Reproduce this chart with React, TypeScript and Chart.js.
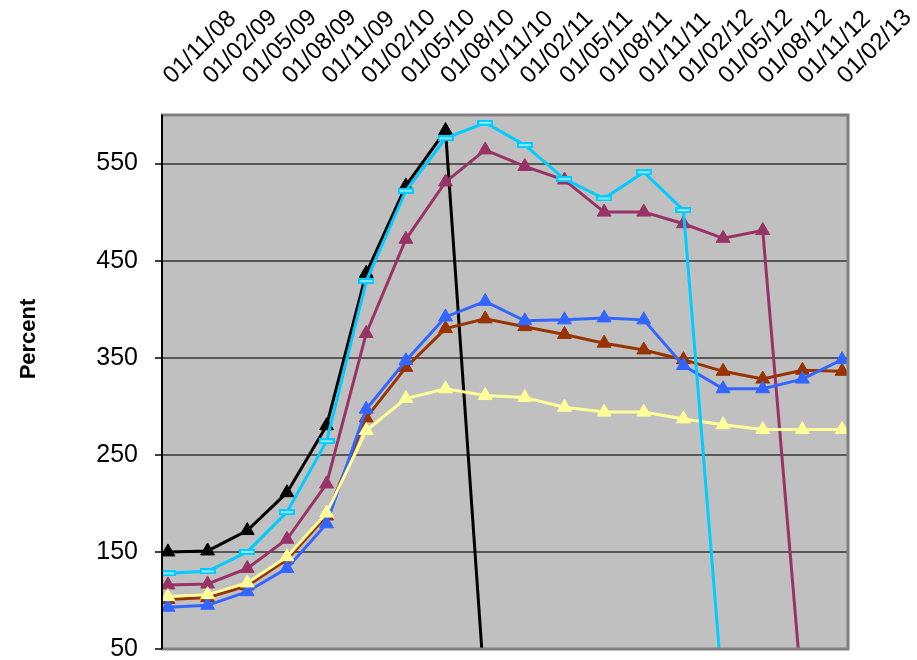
import React, { useEffect, useRef } from 'react';
import { Chart, registerables } from 'chart.js';

Chart.register(...registerables);

const dates = [
  '01/11/08', '01/02/09', '01/05/09', '01/08/09', '01/11/09', '01/02/10',
  '01/05/10', '01/08/10', '01/11/10', '01/02/11', '01/05/11', '01/08/11',
  '01/11/11', '01/02/12', '01/05/12', '01/08/12', '01/11/12', '01/02/13',
];

const yTicks = [50, 150, 250, 350, 450, 550];

const blackSeries = [150, 151, 172, 211, 280, 437, 527, 584, 0, null, null, null, null, null, null, null, null, null];
const cyanSeries = [128, 130, 150, 191, 264, 429, 522, 576, 592, 569, 534, 514, 541, 502, 0, null, null, null];
const purpleSeries = [116, 117, 133, 163, 220, 375, 472, 531, 564, 547, 533, 500, 500, 488, 473, 481, 0, null];
const brownSeries = [101, 103, 115, 142, 187, 288, 340, 380, 390, 382, 374, 365, 358, 348, 336, 328, 337, 336];
const blueSeries = [93, 95, 109, 133, 179, 297, 347, 392, 408, 388, 389, 391, 389, 342, 318, 318, 328, 348];
const yellowSeries = [104, 106, 118, 145, 190, 275, 308, 318, 311, 309, 299, 294, 294, 287, 281, 276, 276, 276];

const FONT = "'Liberation Sans', Arial, Helvetica, sans-serif";

const toXY = (vals: (number | null)[]) => vals.map((y, i) => ({ x: i, y }));

export default function App() {
  const ref = useRef<HTMLCanvasElement>(null);

  useEffect(() => {
    document.body.style.margin = '0';
    const dash = document.createElement('canvas');
    dash.width = 16;
    dash.height = 6;
    const dctx = dash.getContext('2d')!;
    dctx.fillStyle = '#00CCFF';
    dctx.fillRect(0, 0, 16, 6);
    dctx.fillStyle = '#8FE8FF';
    dctx.fillRect(2, 2, 12, 2);

    const framePlugin = {
      id: 'frame',
      beforeDraw(chart: any) {
        const { ctx, chartArea: a } = chart;
        ctx.save();
        ctx.fillStyle = '#C0C0C0';
        ctx.fillRect(a.left, a.top, a.right - a.left, a.bottom - a.top);
        ctx.restore();
      },
      afterDatasetsDraw(chart: any) {
        const { ctx, chartArea: a } = chart;
        ctx.save();
        ctx.strokeStyle = '#808080';
        ctx.lineWidth = 3;
        ctx.beginPath();
        ctx.moveTo(a.left, a.top);
        ctx.lineTo(a.right, a.top);
        ctx.lineTo(a.right, a.bottom);
        ctx.lineTo(a.left, a.bottom);
        ctx.stroke();
        ctx.strokeStyle = '#000';
        ctx.lineWidth = 2;
        ctx.beginPath();
        ctx.moveTo(a.left, a.top);
        ctx.lineTo(a.left, a.bottom);
        ctx.stroke();
        ctx.restore();
      },
      afterDraw(chart: any) {
        const { ctx } = chart;
        ctx.save();
        ctx.translate(29, 339);
        ctx.rotate(-Math.PI / 2);
        ctx.font = `bold 22px ${FONT}`;
        ctx.fillStyle = '#000';
        ctx.textAlign = 'center';
        ctx.textBaseline = 'middle';
        ctx.fillText('Percent', 0, 0);
        ctx.restore();
      },
    };

    const clip = { left: 0, top: 12, right: 0, bottom: 0 };
    const tri = (color: string, vals: (number | null)[], order: number) => ({
      data: toXY(vals),
      borderColor: color,
      backgroundColor: color,
      borderWidth: 3,
      pointStyle: 'triangle',
      pointRadius: 8,
      pointBorderWidth: 1,
      pointBackgroundColor: color,
      pointBorderColor: color,
      tension: 0,
      order,
      clip,
    });

    const chart = new Chart(ref.current!, {
      type: 'line',
      data: {
        datasets: [
          tri('#000000', blackSeries, 5),
          tri('#993366', purpleSeries, 4),
          tri('#993300', brownSeries, 3),
          tri('#3366FF', blueSeries, 2),
          tri('#FFFF99', yellowSeries, 1),
          {
            data: toXY(cyanSeries),
            borderColor: '#00CCFF',
            backgroundColor: '#00CCFF',
            borderWidth: 3,
            pointStyle: dash as any,
            pointRadius: 8,
            tension: 0,
            order: 0,
            clip,
          },
        ] as any,
      },
      plugins: [framePlugin],
      options: {
        animation: false,
        responsive: false,
        layout: { padding: { left: 0, right: 69, top: 0, bottom: 11 } },
        plugins: { legend: { display: false }, tooltip: { enabled: false } },
        scales: {
          x: {
            type: 'linear',
            position: 'top',
            min: -0.15,
            max: 17.15,
            afterBuildTicks: (s: any) => {
              s.ticks = dates.map((_, i) => ({ value: i }));
            },
            afterFit: (s: any) => {
              s.height = 115;
              s.paddingLeft = 0;
              s.paddingRight = 0;
            },
            grid: { display: false },
            border: { display: false },
            ticks: {
              autoSkip: false,
              maxRotation: 45,
              minRotation: 45,
              padding: 17,
              labelOffset: 20,
              color: '#000',
              font: { family: FONT, size: 24 },
              callback: (v: any) => dates[Math.round(Number(v))],
            },
          },
          y: {
            min: 50,
            max: 600,
            afterBuildTicks: (s: any) => {
              s.ticks = yTicks.map((v) => ({ value: v }));
            },
            afterFit: (s: any) => {
              s.width = 162;
              s.paddingTop = 0;
              s.paddingBottom = 0;
            },
            grid: { color: '#575757', lineWidth: 2, tickColor: '#000', tickLength: 7, tickWidth: 1.5 },
            border: { color: '#000', width: 2 },
            ticks: { padding: 17, color: '#000', font: { family: FONT, size: 25 } },
          },
        },
      } as any,
    });
    return () => chart.destroy();
  }, []);

  return (
    <div style={{ width: 917, height: 660 }}>
      <canvas ref={ref} width={917} height={660} style={{ display: 'block' }} />
    </div>
  );
}
